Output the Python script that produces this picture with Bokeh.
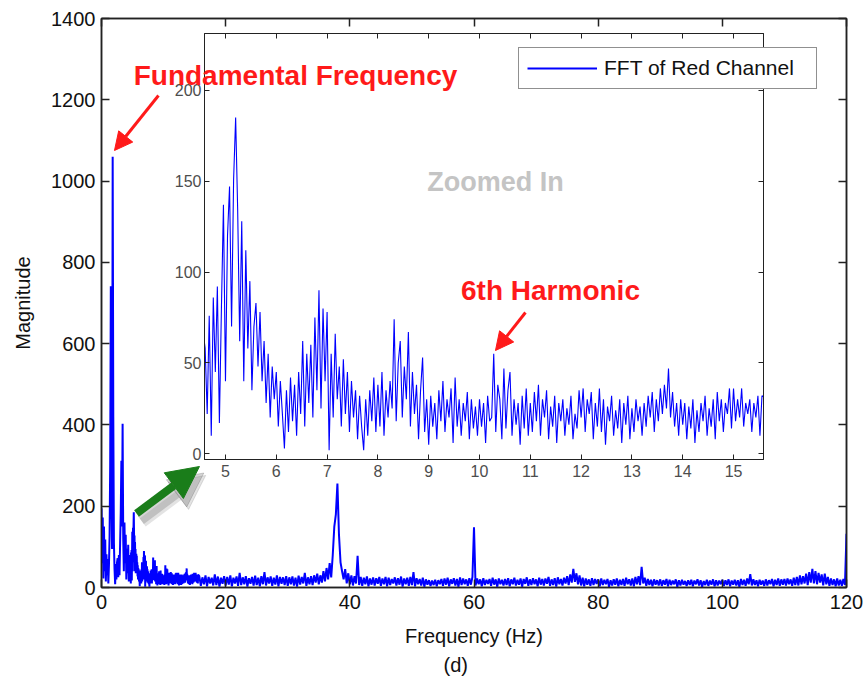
import numpy as np
from bokeh.plotting import figure
from bokeh.models import (ColumnDataSource, Range1d, LinearAxis, Label, Arrow,
                          NormalHead, Column, FixedTicker, Title)
from bokeh.embed import file_html
from bokeh.resources import INLINE

# ---------------- data ----------------
# 0.0 .. 4.5 Hz, step 0.1 Hz
low_magnitude = [
    195, 60, 172, 22, 150, 40, 118, 15, 82, 30,
    70, 10, 55, 125, 300, 741, 250, 95, 1060, 420,
    110, 45, 8, 58, 20, 62, 72, 25, 80, 30,
    110, 185, 312, 150, 403, 120, 40, 160, 60, 130,
    20, 95, 35, 105, 15, 80,
]
# 4.60 .. 15.56 Hz, step 0.04 Hz (zoomed region)
zoom_magnitude = [
    58, 22, 76, 10, 86, 45, 92, 17, 80, 137,
    40, 120, 147, 70, 151, 185, 134, 62, 128, 40, 112, 58, 95, 35, 70, 83, 48, 78, 40, 62, 28, 55, 20, 48, 30,
    45, 15, 40, 22, 3, 35, 12, 42, 18, 38, 10, 45, 22, 62, 15, 55, 28, 60, 20, 75, 35, 90, 25, 80, 40,
    78, 2, 55, 20, 66, 30, 48, 15, 52, 22, 45, 12, 40, 20, 35, 8, 32, 15, 2, 30, 10, 35, 18, 42, 12,
    38, 15, 45, 10, 35, 20, 40, 25, 74, 18, 50, 62, 20, 48, 30, 67, 15, 45, 22, 38, 8, 35, 53, 12, 30,
    5, 32, 15, 28, 8, 35, 18, 40, 12, 30, 20, 36, 6, 42, 15, 30, 10, 28, 18, 34, 8, 30, 14, 26, 10,
    30, 15, 28, 6, 32, 18, 20, 55, 12, 38, 30, 8, 47, 14, 35, 45, 10, 30, 16, 28, 5, 32, 14, 36, 10,
    28, 12, 34, 18, 38, 10, 30, 20, 35, 8, 26, 15, 32, 6, 28, 18, 30, 10, 25, 16, 32, 8, 22, 14, 35,
    20, 36, 12, 30, 22, 34, 8, 28, 15, 36, 12, 30, 5, 26, 18, 32, 10, 24, 14, 30, 6, 28, 16, 32, 8,
    25, 12, 30, 18, 26, 10, 28, 15, 32, 20, 34, 12, 30, 18, 36, 22, 38, 25, 47, 20, 34, 15, 28, 10, 30,
    16, 28, 8, 26, 14, 30, 6, 24, 12, 28, 18, 32, 10, 25, 15, 30, 8, 34, 18, 30, 12, 28, 22, 36, 14,
    36, 18, 30, 20, 36, 15, 28, 22, 30, 12, 28, 20, 32, 10, 32,
]
# 15.75 .. 120.0 Hz, step 0.25 Hz
high_magnitude = [
    28, 4, 25, 8, 30, 3, 26, 10, 24, 5, 32, 6, 27, 2, 24, 9, 28,
    5, 26, 7, 30, 3, 24, 10, 27, 4, 36, 6, 25, 8, 28, 2, 23, 9, 26, 5, 29,
    6, 24, 3, 28, 8, 38, 5, 25, 10, 27, 4, 24, 7, 30, 3, 26, 9, 25, 6, 28,
    4, 25, 8, 27, 5, 24, 2, 29, 7, 26, 10, 36, 4, 25, 8, 28, 6, 30, 12, 34,
    8, 30, 12, 40, 15, 48, 20, 60, 25, 80, 150, 180, 256, 130, 62, 40, 20, 45, 10, 35,
    8, 30, 5, 28, 10, 78, 6, 26, 4, 24, 8, 27, 3, 22, 7, 25, 5, 23, 9, 26,
    4, 22, 8, 26, 3, 24, 6, 21, 10, 25, 5, 23, 7, 27, 2, 22, 8, 24, 4, 26,
    6, 38, 3, 23, 8, 21, 5, 24, 2, 20, 7, 18, 4, 17, 6, 19, 3, 18, 8, 21,
    4, 22, 7, 24, 3, 20, 9, 23, 5, 21, 2, 25, 6, 22, 8, 20, 4, 23, 7, 26,
    148, 5, 22, 8, 20, 3, 23, 6, 19, 9, 21, 4, 24, 7, 20, 2, 22, 8, 19, 5,
    21, 6, 23, 3, 20, 8, 24, 5, 19, 7, 22, 2, 21, 9, 25, 4, 20, 6, 23, 8,
    20, 3, 24, 7, 21, 5, 22, 9, 26, 4, 20, 6, 23, 2, 25, 8, 21, 5, 24, 10,
    28, 6, 32, 12, 46, 14, 35, 8, 30, 5, 24, 3, 22, 7, 20, 4, 23, 6, 21, 9,
    20, 3, 22, 6, 19, 8, 21, 2, 18, 5, 20, 7, 22, 3, 19, 6, 21, 4, 24, 8,
    20, 5, 22, 3, 26, 8, 28, 6, 51, 10, 24, 4, 21, 6, 19, 3, 20, 7, 18, 5,
    20, 4, 18, 7, 21, 3, 19, 6, 17, 8, 20, 2, 18, 5, 19, 7, 16, 4, 18, 6,
    19, 3, 17, 8, 20, 5, 18, 2, 16, 6, 19, 4, 17, 7, 20, 3, 18, 5, 17, 8,
    19, 4, 18, 6, 20, 3, 17, 7, 19, 5, 18, 2, 21, 6, 19, 4, 22, 8, 33, 5,
    20, 6, 18, 3, 19, 7, 17, 4, 20, 5, 18, 8, 21, 3, 19, 6, 22, 4, 20, 7,
    21, 5, 22, 8, 20, 4, 24, 6, 26, 5, 30, 8, 28, 10, 34, 6, 38, 12, 46, 10,
    40, 8, 36, 12, 32, 5, 34, 8, 26, 4, 22, 6, 20, 3, 22, 5, 19, 4, 21, 6,
    132,
]

low_freq_hz = np.round(0.0 + 0.1 * np.arange(len(low_magnitude)), 3)
zoom_freq_hz = np.round(4.60 + 0.04 * np.arange(len(zoom_magnitude)), 3)
high_freq_hz = np.round(15.75 + 0.25 * np.arange(len(high_magnitude)), 3)

main_x_ticks = [0, 20, 40, 60, 80, 100, 120]
main_y_ticks = [0, 200, 400, 600, 800, 1000, 1200, 1400]
zoom_x_ticks = [5, 6, 7, 8, 9, 10, 11, 12, 13, 14, 15]
zoom_y_ticks = [0, 50, 100, 150, 200]

series_label = "FFT of Red Channel"

# ---------------- build ----------------
freq = np.concatenate([low_freq_hz, zoom_freq_hz, high_freq_hz])
mag = np.concatenate([low_magnitude, zoom_magnitude, high_magnitude]).astype(float)
src = ColumnDataSource(data=dict(freq=freq, mag=mag))

FONT = "Liberation Sans"
BLUE = "#0000ff"
BL, BR, BT, BB = 101, 18, 18, 95   # identical borders for both plots


def style_axis(ax, ticks, size, color, tick_len, label=True, standoff=4):
    ax.ticker = FixedTicker(ticks=ticks)
    ax.major_tick_in = tick_len
    ax.major_tick_out = 0
    ax.minor_tick_line_color = None
    ax.major_tick_line_color = "#222222"
    ax.axis_line_color = "#222222"
    ax.major_label_text_font = FONT
    ax.major_label_standoff = standoff
    if label:
        ax.major_label_text_font_size = size
        ax.major_label_text_color = color
    else:
        ax.major_label_text_font_size = "0px"
        ax.major_label_text_alpha = 0
        ax.major_label_standoff = 0


# ---- inset (drawn underneath) ----
inset = figure(width=BL + 559 + BR, height=BT + 426 + BB,
               x_range=Range1d(4.587, 15.59), y_range=Range1d(-3.1, 231.2),
               min_border_left=BL, min_border_right=BR, min_border_top=BT,
               min_border_bottom=BB, toolbar_location=None, output_backend="svg")
inset.styles = {"position": "absolute", "left": f"{204 - BL}px", "top": f"{33 - BT}px"}
inset.grid.visible = False
inset.outline_line_color = "#222222"
inset.outline_line_width = 1
inset.line("freq", "mag", source=src, line_color=BLUE, line_width=1.1)
style_axis(inset.xaxis[0], zoom_x_ticks, "16px", "#4d4d4d", 5, standoff=5)
style_axis(inset.yaxis[0], zoom_y_ticks, "16px", "#4d4d4d", 5, standoff=3)
ia_top = LinearAxis()
style_axis(ia_top, zoom_x_ticks, "0px", None, 5, label=False)
inset.add_layout(ia_top, "above")
ia_right = LinearAxis()
style_axis(ia_right, zoom_y_ticks, "0px", None, 5, label=False)
inset.add_layout(ia_right, "right")

# ---- main (drawn on top, transparent) ----
p = figure(width=864, height=682, x_range=Range1d(0, 120), y_range=Range1d(0, 1400),
           min_border_left=BL, min_border_right=BR, min_border_top=BT,
           min_border_bottom=BB, toolbar_location=None, output_backend="svg")
p.styles = {"position": "absolute", "left": "0px", "top": "0px"}
p.background_fill_alpha = 0
p.border_fill_alpha = 0
p.grid.visible = False
p.outline_line_color = "#222222"
p.outline_line_width = 1.5

p.line("freq", "mag", source=src, line_color=BLUE, line_width=2.0,
       legend_label=series_label)

style_axis(p.xaxis[0], main_x_ticks, "20px", "#111111", 8, standoff=7)
style_axis(p.yaxis[0], main_y_ticks, "20px", "#111111", 8, standoff=6)
for ax in (p.xaxis[0], p.yaxis[0]):
    ax.axis_line_width = 1.5
    ax.major_tick_line_width = 1.5
    ax.axis_label_text_font = FONT
    ax.axis_label_text_font_size = "20px"
    ax.axis_label_text_font_style = "normal"
    ax.axis_label_text_color = "#111111"
p.xaxis[0].axis_label = "Frequency (Hz)"
p.xaxis[0].axis_label_standoff = 13
p.yaxis[0].axis_label = "Magnitude"
p.yaxis[0].axis_label_standoff = 14

ma_top = LinearAxis()
style_axis(ma_top, main_x_ticks, "0px", None, 8, label=False)
ma_top.axis_line_width = 1.5
ma_top.major_tick_line_width = 1.5
p.add_layout(ma_top, "above")
ma_right = LinearAxis()
style_axis(ma_right, main_y_ticks, "0px", None, 8, label=False)
ma_right.axis_line_width = 1.5
ma_right.major_tick_line_width = 1.5
p.add_layout(ma_right, "right")

p.add_layout(Title(text="(d)", align="left", offset=342, standoff=4,
                   text_font=FONT, text_font_size="20px", text_font_style="normal",
                   text_color="#111111"), "below")

lg = p.legend[0]
lg.location = "top_right"
lg.margin = 29
lg.padding = 8
lg.spacing = 0
lg.glyph_width = 70
lg.glyph_height = 22
lg.label_standoff = 7
lg.label_width = 204
lg.label_text_font = FONT
lg.label_text_font_size = "21px"
lg.label_text_color = "#111111"
lg.border_line_color = "#222222"
lg.border_line_width = 1.2
lg.background_fill_color = "white"
lg.background_fill_alpha = 1

# annotations
p.add_layout(Label(x=31.25, y=1260.0, text="Fundamental Frequency", text_align="center",
                   text_baseline="alphabetic", text_font=FONT, text_font_size="28px",
                   text_font_style="bold", text_color="#ff1a1a"))
p.add_layout(Label(x=63.46, y=996.5, text="Zoomed In", text_align="center",
                   text_baseline="alphabetic", text_font=FONT, text_font_size="27px",
                   text_font_style="bold", text_color="#c4c4c4"))
p.add_layout(Label(x=72.32, y=730.8, text="6th Harmonic", text_align="center",
                   text_baseline="alphabetic", text_font=FONT, text_font_size="28px",
                   text_font_style="bold", text_color="#ff1a1a"))

p.add_layout(Arrow(end=NormalHead(size=18, fill_color="#ff1a1a", line_color="#ff1a1a"),
                   x_start=9.18, y_start=1210.6, x_end=2.09, y_end=1075.2,
                   line_color="#ff1a1a", line_width=3))
p.add_layout(Arrow(end=NormalHead(size=18, fill_color="#ff1a1a", line_color="#ff1a1a"),
                   x_start=68.29, y_start=676.6, x_end=63.46, y_end=583.1,
                   line_color="#ff1a1a", line_width=3))
# green arrow with soft shadow
for dx, dy, a in ((1.0, -22.0, 0.18), (0.7, -16.0, 0.28)):
    p.add_layout(Arrow(end=NormalHead(size=34, fill_color="#666666", fill_alpha=a,
                                      line_color="#666666", line_alpha=a),
                       x_start=5.64 + dx, y_start=182.1 + dy, x_end=15.78 + dx, y_end=297.7 + dy,
                       line_color="#666666", line_alpha=a, line_width=10))
p.add_layout(Arrow(end=NormalHead(size=32, fill_color="#1a7d1a", line_color="#1a7d1a"),
                   x_start=5.64, y_start=182.1, x_end=15.78, y_end=297.7,
                   line_color="#1a7d1a", line_width=8))

layout = Column(children=[inset, p], width=864, height=682)

open("out.html", "w").write(file_html(layout, INLINE))
